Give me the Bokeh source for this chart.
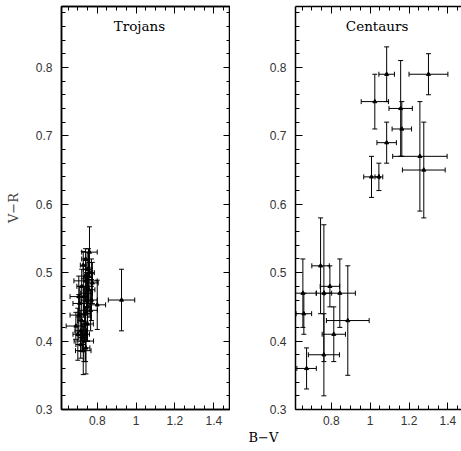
import numpy as np
from bokeh.plotting import figure
from bokeh.layouts import row
from bokeh.models import ColumnDataSource, FixedTicker, LinearAxis, Label, Range1d, Title
from bokeh.embed import file_html
from bokeh.resources import INLINE

# ---------------- data ----------------
troj_bv = [0.760, 0.740, 0.728, 0.748, 0.770, 0.740, 0.775, 0.720, 0.758, 0.745,
           0.705, 0.770, 0.710, 0.800, 0.925, 0.766, 0.705, 0.735, 0.720, 0.750,
           0.690, 0.715, 0.740, 0.700, 0.731, 0.715, 0.728, 0.742, 0.725, 0.750,
           0.730, 0.755]
troj_vr = [0.530, 0.520, 0.511, 0.505, 0.500, 0.488, 0.485, 0.480, 0.475, 0.470,
           0.465, 0.460, 0.455, 0.453, 0.460, 0.445, 0.438, 0.440, 0.430, 0.425,
           0.422, 0.415, 0.410, 0.410, 0.400, 0.395, 0.386, 0.390, 0.405, 0.450,
           0.465, 0.495]
troj_bv_err = [0.040, 0.020, 0.015, 0.020, 0.015, 0.060, 0.030, 0.025, 0.030, 0.030,
               0.045, 0.030, 0.035, 0.043, 0.068, 0.035, 0.045, 0.030, 0.020, 0.030,
               0.050, 0.030, 0.020, 0.025, 0.050, 0.025, 0.040, 0.020, 0.020, 0.020,
               0.020, 0.020]
troj_vr_err = [0.037, 0.015, 0.020, 0.025, 0.020, 0.030, 0.030, 0.025, 0.040, 0.030,
               0.030, 0.030, 0.025, 0.036, 0.045, 0.030, 0.030, 0.040, 0.030, 0.025,
               0.020, 0.030, 0.040, 0.038, 0.030, 0.020, 0.035, 0.038, 0.020, 0.050,
               0.030, 0.040]

cent_bv = [1.085, 1.30, 1.024, 1.157, 1.163, 1.085, 1.007, 1.045, 1.256, 1.276,
           0.745, 0.793, 0.654, 0.762, 0.844, 0.659, 0.885, 0.813, 0.762, 0.673]
cent_vr = [0.79, 0.79, 0.75, 0.74, 0.71, 0.69, 0.64, 0.64, 0.67, 0.65,
           0.51, 0.48, 0.47, 0.47, 0.47, 0.44, 0.43, 0.41, 0.38, 0.36]
cent_bv_err = [0.04, 0.10, 0.07, 0.06, 0.05, 0.05, 0.04, 0.02, 0.14, 0.11,
               0.045, 0.05, 0.07, 0.04, 0.08, 0.04, 0.11, 0.06, 0.08, 0.05]
cent_vr_err = [0.04, 0.03, 0.04, 0.07, 0.04, 0.03, 0.03, 0.02, 0.08, 0.07,
               0.07, 0.03, 0.05, 0.10, 0.05, 0.03, 0.08, 0.04, 0.06, 0.03]

x_major = [0.8, 1.0, 1.2, 1.4]
x_minor = [0.65, 0.7, 0.75, 0.85, 0.9, 0.95, 1.05, 1.1, 1.15, 1.25, 1.3, 1.35, 1.45]
y_major = [0.3, 0.4, 0.5, 0.6, 0.7, 0.8]
y_minor = [round(0.30 + 0.02 * i, 2) for i in range(30)]

# ---------------- helpers ----------------
TICK_FONT = "Liberation Sans"
LABEL_FONT = "DejaVu Serif"
X_START = 0.616
Y_END = 0.889


def style_axis(ax, major, minor, labels):
    ax.ticker = FixedTicker(ticks=major, minor_ticks=minor)
    ax.major_tick_in = 7
    ax.major_tick_out = 0
    ax.minor_tick_in = 4
    ax.minor_tick_out = 0
    ax.axis_line_width = 1.5
    ax.axis_line_color = "black"
    ax.major_tick_line_color = "black"
    ax.minor_tick_line_color = "black"
    ax.major_tick_line_width = 1
    ax.minor_tick_line_width = 1
    if labels:
        ax.major_label_text_font = TICK_FONT
        ax.major_label_text_font_size = "12px"
        ax.major_label_text_color = "#333333"
    else:
        ax.major_label_text_font_size = "0px"
        ax.major_label_text_color = None
        ax.major_label_standoff = 0


def panel(bv, vr, ebv, evr, title, title_x, width, border_left, x_end, right_axis):
    p = figure(width=width, height=451,
               x_range=Range1d(X_START, x_end), y_range=Range1d(0.3, Y_END),
               output_backend="svg", toolbar_location=None,
               x_axis_location=None, y_axis_location=None,
               min_border_left=border_left, min_border_right=0,
               min_border_top=6, min_border_bottom=42)
    p.grid.visible = False
    p.background_fill_color = "white"
    p.border_fill_color = "white"
    if right_axis:
        p.outline_line_color = "black"
        p.outline_line_width = 1.5
    else:
        p.outline_line_color = None

    bottom = LinearAxis()
    style_axis(bottom, x_major, x_minor, True)
    bottom.major_label_standoff = 6
    bottom.major_label_overrides = {1: "1"}
    p.add_layout(bottom, "below")

    top = LinearAxis()
    style_axis(top, x_major, x_minor, False)
    p.add_layout(top, "above")

    left = LinearAxis()
    style_axis(left, y_major, y_minor, True)
    left.major_label_standoff = 9
    p.add_layout(left, "left")

    if right_axis:
        right = LinearAxis()
        style_axis(right, y_major, y_minor, False)
        p.add_layout(right, "right")

    bv = np.array(bv)
    vr = np.array(vr)
    ebv = np.array(ebv)
    evr = np.array(evr)
    src = ColumnDataSource(dict(x=bv, y=vr, xl=bv - ebv, xu=bv + ebv,
                                yl=vr - evr, yu=vr + evr))
    # error bars
    p.segment(x0="xl", y0="y", x1="xu", y1="y", source=src,
              line_color="black", line_width=1)
    p.segment(x0="x", y0="yl", x1="x", y1="yu", source=src,
              line_color="black", line_width=1)
    # caps
    for cx, cy, ang in (("x", "yl", 0), ("x", "yu", 0),
                        ("xl", "y", np.pi / 2), ("xu", "y", np.pi / 2)):
        p.scatter(x=cx, y=cy, source=src, marker="dash", size=5, angle=ang,
                  line_color="black", line_width=1)
    # points
    p.scatter(x="x", y="y", source=src, marker="triangle", size=4,
              fill_color="black", line_color="black")

    p.add_layout(Label(x=title_x, y=0.861, text=title, text_align="center",
                       text_baseline="middle", text_font=LABEL_FONT,
                       text_font_style="normal",
                       text_font_size="13.5px", text_color="black"))
    return p, left


p1, left1 = panel(troj_bv, troj_vr, troj_bv_err, troj_vr_err, "Trojans", 1.017,
                  230, 61, 1.486, True)
left1.axis_label = "V\u2212R"
left1.axis_label_text_font = LABEL_FONT
left1.axis_label_text_font_style = "normal"
left1.axis_label_text_font_size = "13px"
left1.axis_label_standoff = 12

p2, left2 = panel(cent_bv, cent_vr, cent_bv_err, cent_vr_err, "Centaurs", 1.036,
                  231, 65, 1.470, False)
xt = Title(text="B\u2212V", align="left", offset=-47, standoff=0,
           text_font=LABEL_FONT, text_font_style="normal", text_font_size="13px",
           text_color="black")
p2.add_layout(xt, "below")

layout = row(p1, p2, spacing=0)
open("out.html", "w").write(file_html(layout, INLINE))
